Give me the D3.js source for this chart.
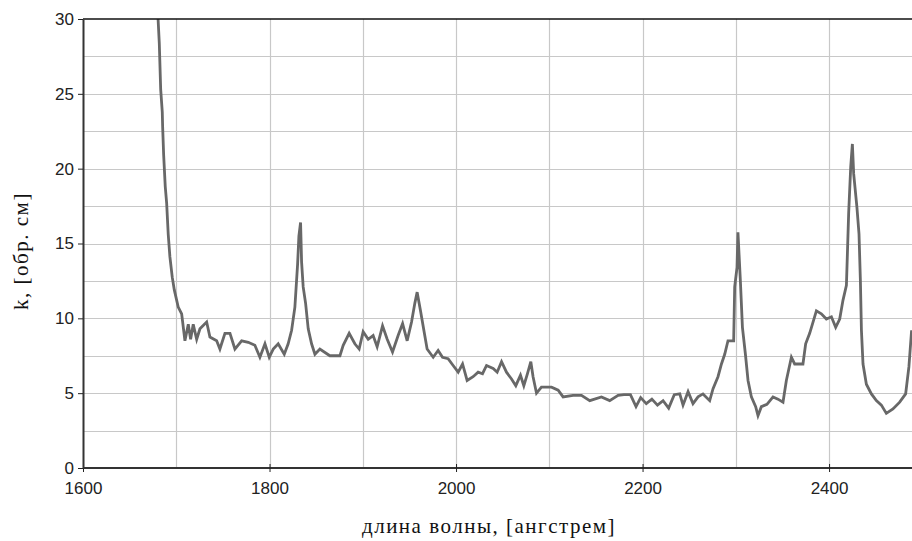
<!DOCTYPE html>
<html>
<head>
<meta charset="utf-8">
<script src="https://cdn.jsdelivr.net/npm/d3@7/dist/d3.min.js"></script>
<style>
  html, body { margin: 0; padding: 0; background: #fff; }
  svg { display: block; }
</style>
</head>
<body>
<svg id="chart" width="912" height="541"></svg>
<script>
// Absorption coefficient spectrum: wavelength (Å) vs k (1/cm)
const wavelength = [
  1680.5, 1681.8, 1683.3, 1685.0, 1685.4, 1686.5, 1688.2, 1689.7, 1691.4, 1693.2,
  1695.7, 1697.9, 1702.1, 1705.8, 1709.3, 1712.9, 1715.4, 1718.2, 1721.9, 1725.4,
  1732.6, 1736.1, 1743.3, 1746.8, 1752.2, 1757.6, 1762.9, 1770.1, 1777.2, 1784.3,
  1789.7, 1795.1, 1799.7, 1804.0, 1809.3, 1815.8, 1820.0, 1823.7, 1827.2, 1830.1,
  1831.5, 1833.3, 1834.4, 1836.1, 1838.7, 1841.5, 1845.1, 1848.7, 1854.0, 1864.7,
  1875.5, 1879.0, 1885.4, 1891.5, 1896.1, 1900.4, 1905.8, 1911.1, 1915.4, 1921.2,
  1926.2, 1931.9, 1937.9, 1942.7, 1947.6, 1952.3, 1955.8, 1958.3, 1961.9, 1965.5,
  1969.0, 1975.5, 1980.8, 1985.5, 1991.5, 1996.9, 2002.3, 2007.0, 2011.9, 2018.3,
  2023.7, 2028.4, 2032.7, 2039.8, 2044.1, 2048.8, 2054.1, 2059.5, 2064.1, 2069.1,
  2072.7, 2076.6, 2080.2, 2082.6, 2086.3, 2091.6, 2102.4, 2109.5, 2114.8, 2125.5,
  2134.5, 2143.4, 2155.9, 2164.8, 2173.8, 2180.0, 2187.0, 2193.0, 2198.0, 2204.0,
  2210.0, 2216.0, 2222.0, 2228.0, 2234.0, 2239.9, 2243.4, 2248.8, 2254.1, 2259.5,
  2264.8, 2272.0, 2275.6, 2280.9, 2284.6, 2288.1, 2291.6, 2297.7, 2298.8, 2301.3,
  2302.3, 2304.9, 2307.1, 2310.3, 2313.1, 2316.7, 2321.3, 2323.8, 2327.4, 2333.4,
  2339.9, 2345.2, 2350.6, 2354.2, 2359.6, 2363.1, 2372.0, 2374.9, 2379.2, 2382.8,
  2386.4, 2391.7, 2397.1, 2402.5, 2407.1, 2411.4, 2414.9, 2418.6, 2421.0, 2423.2,
  2425.0, 2426.4, 2429.9, 2432.1, 2433.6, 2434.7, 2436.4, 2440.0, 2445.4, 2450.7,
  2456.1, 2461.4, 2468.5, 2475.7, 2482.1, 2485.6, 2488.5
];
const kValues = [
  30.0, 28.4, 25.3, 23.8, 22.8, 20.9, 18.8, 17.7, 15.6, 14.1,
  12.75, 11.9, 10.75, 10.3, 8.5, 9.6, 8.6, 9.6, 8.6, 9.3,
  9.75, 8.75, 8.5, 7.95, 9.0, 9.0, 7.95, 8.5, 8.4, 8.2,
  7.4, 8.3, 7.4, 7.95, 8.3, 7.6, 8.3, 9.2, 10.75, 13.6,
  15.5, 16.4, 13.75, 12.1, 11.0, 9.3, 8.3, 7.6, 7.95, 7.5,
  7.5, 8.2, 9.0, 8.3, 7.95, 9.1, 8.6, 8.85, 8.1, 9.5,
  8.6, 7.75, 8.85, 9.65, 8.5, 9.75, 11.0, 11.75, 10.5, 9.2,
  7.95, 7.4, 7.85, 7.4, 7.3, 6.85, 6.4, 6.95, 5.85, 6.1,
  6.4, 6.3, 6.85, 6.65, 6.4, 7.1, 6.4, 5.95, 5.5, 6.2,
  5.5, 6.3, 7.1, 6.1, 5.0, 5.4, 5.4, 5.2, 4.75, 4.85,
  4.85, 4.5, 4.75, 4.5, 4.85, 4.9, 4.9, 4.1, 4.7, 4.3,
  4.6, 4.2, 4.5, 4.0, 4.9, 4.95, 4.2, 5.1, 4.3, 4.75,
  4.95, 4.5, 5.3, 6.1, 6.95, 7.6, 8.5, 8.5, 12.1, 13.4,
  15.75, 12.5, 9.4, 7.6, 5.85, 4.75, 4.1, 3.5, 4.1, 4.25,
  4.75, 4.6, 4.4, 5.85, 7.4, 6.95, 6.95, 8.3, 9.0, 9.75,
  10.5, 10.3, 9.95, 10.1, 9.4, 9.95, 11.2, 12.2, 17.0, 20.1,
  21.65, 19.65, 17.4, 15.65, 12.5, 9.2, 6.95, 5.6, 4.95, 4.5,
  4.2, 3.65, 3.95, 4.4, 4.95, 6.75, 9.2
];
const xTickValues = [1600, 1800, 2000, 2200, 2400];
const yTickValues = [0, 5, 10, 15, 20, 25, 30];
const xGridValues = [1700, 1800, 1900, 2000, 2100, 2200, 2300, 2400];
const yGridValues = [2.5, 5, 7.5, 10, 12.5, 15, 17.5, 20, 22.5, 25, 27.5];
const xTitle = "длина волны, [ангстрем]";
const yTitle = "k, [обр. см]";

const svg = d3.select("#chart");
const plotLeft = 83, plotTop = 19, plotBottom = 468, plotRight = 913;

const x = d3.scaleLinear().domain([1600, 2490]).range([plotLeft, plotRight]);
const y = d3.scaleLinear().domain([0, 30]).range([plotBottom, plotTop]);

// grid
const grid = svg.append("g").attr("stroke", "#c8c8c8").attr("stroke-width", 1.2);
grid.selectAll("line.v").data(xGridValues).join("line").attr("class", "v")
  .attr("x1", d => Math.round(x(d)) + 0.5).attr("x2", d => Math.round(x(d)) + 0.5)
  .attr("y1", plotTop).attr("y2", plotBottom);
grid.selectAll("line.h").data(yGridValues).join("line").attr("class", "h")
  .attr("x1", plotLeft).attr("x2", 912)
  .attr("y1", d => Math.round(y(d)) + 0.5).attr("y2", d => Math.round(y(d)) + 0.5);

// data line, clipped to the plot area
svg.append("clipPath").attr("id", "plotclip")
  .append("rect").attr("x", plotLeft).attr("y", plotTop)
  .attr("width", 912 - plotLeft).attr("height", plotBottom - plotTop);

const pts = wavelength.map((w, i) => [w, kValues[i]]);
svg.append("path")
  .datum(pts)
  .attr("clip-path", "url(#plotclip)")
  .attr("fill", "none")
  .attr("stroke", "#686868")
  .attr("stroke-width", 2.8)
  .attr("stroke-linejoin", "miter")
  .attr("d", d3.line().x(d => x(d[0])).y(d => y(d[1])));

// frame: top border
svg.append("line").attr("x1", plotLeft).attr("x2", 912).attr("y1", plotTop).attr("y2", plotTop)
  .attr("stroke", "#111").attr("stroke-width", 1.5);

// x axis
const xAxis = svg.append("g").attr("transform", `translate(0,${plotBottom})`)
  .call(d3.axisBottom(x).tickValues(xTickValues).tickFormat(d3.format("d"))
    .tickSizeInner(4).tickSizeOuter(0).tickPadding(10));
xAxis.select(".domain").attr("stroke", "#333").attr("stroke-width", 2).attr("d", `M${plotLeft},0H912`);
xAxis.selectAll(".tick line").attr("stroke", "#222").attr("y1", -4).attr("y2", 4);
xAxis.selectAll(".tick text")
  .attr("fill", "#222").attr("font-family", "'Liberation Sans', Arial, sans-serif")
  .attr("font-size", 17).attr("dy", "0.71em");

// y axis
const yAxis = svg.append("g").attr("transform", `translate(${plotLeft},0)`)
  .call(d3.axisLeft(y).tickValues(yTickValues).tickFormat(d3.format("d"))
    .tickSizeInner(5).tickSizeOuter(0).tickPadding(4));
yAxis.select(".domain").attr("stroke", "#333").attr("stroke-width", 2);
yAxis.selectAll(".tick line").attr("stroke", "#222");
yAxis.selectAll(".tick text")
  .attr("fill", "#222").attr("font-family", "'Liberation Sans', Arial, sans-serif")
  .attr("font-size", 17);

// axis titles
svg.append("text")
  .attr("x", 489).attr("y", 533)
  .attr("text-anchor", "middle")
  .attr("font-family", "'Liberation Serif', 'Times New Roman', serif")
  .attr("font-size", 21).attr("letter-spacing", "1.5px")
  .attr("fill", "#111")
  .text(xTitle);

svg.append("text")
  .attr("transform", "translate(28,251) rotate(-90)")
  .attr("text-anchor", "middle")
  .attr("font-family", "'Liberation Serif', 'Times New Roman', serif")
  .attr("font-size", 21).attr("letter-spacing", "1.5px")
  .attr("fill", "#111")
  .text(yTitle);
</script>
</body>
</html>
